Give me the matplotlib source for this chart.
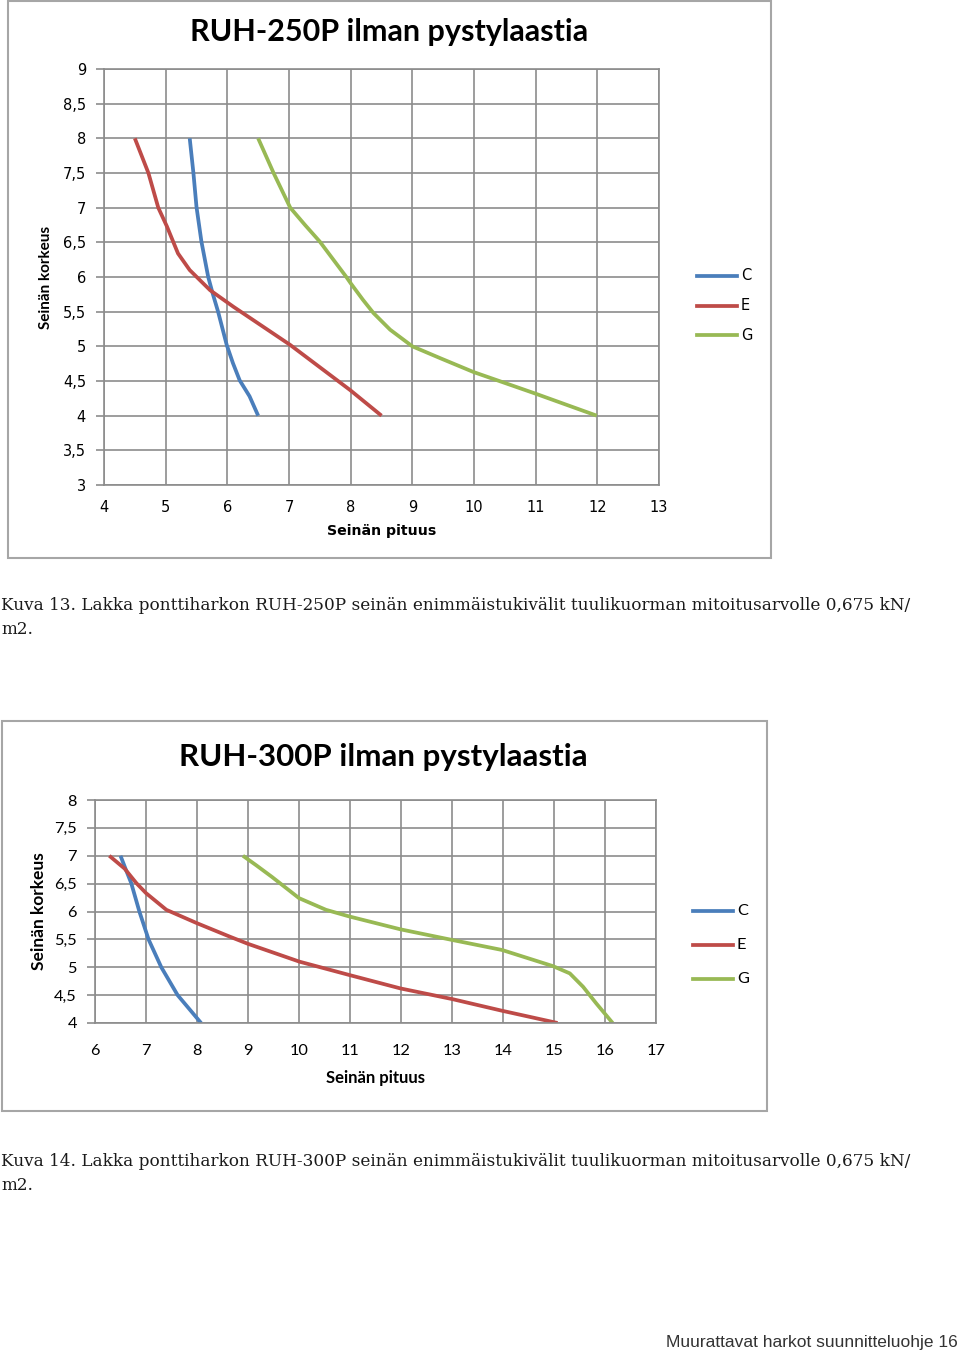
import matplotlib
matplotlib.use("Agg")
import matplotlib.pyplot as plt
from matplotlib.patches import Rectangle

# ---- data ----
series = ["C", "E", "G"]
colors = ["#4A7EBB", "#BE4B48", "#98B954"]

# chart 1: RUH-250P
c1_x = [5.39, 5.45, 5.50, 5.58, 5.69, 5.76, 5.85, 5.99, 6.09, 6.2, 6.36, 6.5]
c1_y = [8.0, 7.5, 7.01, 6.51, 6.0, 5.77, 5.5, 5.02, 4.76, 4.51, 4.28, 4.0]
e1_x = [4.5, 4.72, 4.88, 5.02, 5.20, 5.39, 5.72, 6.10, 7.02, 7.99, 8.5]
e1_y = [8.0, 7.5, 7.0, 6.73, 6.34, 6.10, 5.81, 5.57, 5.02, 4.37, 4.0]
g1_x = [6.5, 6.75, 7.02, 7.26, 7.5, 7.93, 8.0, 8.2, 8.37, 8.64, 9.0, 9.45, 9.99, 10.99, 11.99]
g1_y = [8.0, 7.5, 7.0, 6.75, 6.51, 6.0, 5.91, 5.67, 5.48, 5.24, 5.0, 4.83, 4.63, 4.32, 4.0]

# chart 2: RUH-300P
c2_x = [6.5, 6.61, 6.71, 6.87, 7.05, 7.30, 7.62, 8.08]
c2_y = [7.0, 6.74, 6.51, 6.0, 5.5, 5.0, 4.5, 4.0]
e2_x = [6.28, 6.58, 6.81, 7.0, 7.40, 8.0, 8.64, 9.0, 10.01, 10.99, 11.99, 13.0, 13.98, 15.07]
e2_y = [7.0, 6.77, 6.51, 6.33, 6.03, 5.79, 5.55, 5.42, 5.10, 4.86, 4.62, 4.43, 4.22, 4.0]
g2_x = [8.9, 9.16, 9.47, 10.0, 10.53, 10.99, 11.99, 13.0, 13.98, 14.98, 15.31, 15.57, 15.83, 16.15]
g2_y = [7.0, 6.83, 6.62, 6.24, 6.03, 5.91, 5.68, 5.49, 5.31, 5.02, 4.89, 4.65, 4.35, 4.0]

x1_ticks = list(range(4, 14))
y1_ticks = [3, 3.5, 4, 4.5, 5, 5.5, 6, 6.5, 7, 7.5, 8, 8.5, 9]
x2_ticks = list(range(6, 18))
y2_ticks = [4, 4.5, 5, 5.5, 6, 6.5, 7, 7.5, 8]

title1 = "RUH-250P ilman pystylaastia"
title2 = "RUH-300P ilman pystylaastia"
xlabel = "Seinän pituus"
ylabel = "Seinän korkeus"
caption1 = ["Kuva 13. Lakka ponttiharkon RUH-250P seinän enimmäistukivälit tuulikuorman mitoitusarvolle 0,675 kN/", "m2."]
caption2 = ["Kuva 14. Lakka ponttiharkon RUH-300P seinän enimmäistukivälit tuulikuorman mitoitusarvolle 0,675 kN/", "m2."]
footer = "Muurattavat harkot suunnitteluohje 16"

W, H = 960, 1354
fig = plt.figure(figsize=(W / 100, H / 100), dpi=100)


def fx(px):
    return px / W


def fy(py):
    return 1 - py / H


def fmt(v):
    return ("%g" % v).replace(".", ",")


grid_col = "#8C8C8C"


def chart(box, axbox, data, xt, yt, title, title_y, title_size, font, tick_size,
          xpad, xlab_size, ylab_size, ylab_x, xlab_y, leg_x, leg_y, leg_space):
    bx0, by0, bx1, by1 = box
    fig.patches.append(Rectangle((fx(bx0), fy(by1)), fx(bx1 - bx0), (by1 - by0) / H,
                                 transform=fig.transFigure, fill=False,
                                 edgecolor="#A6A6A6", lw=1.5))
    ax0, ay0, ax1, ay1 = axbox
    ax = fig.add_axes([fx(ax0), fy(ay1), fx(ax1 - ax0), (ay1 - ay0) / H])
    for (xs, ys), col in zip(data, colors):
        ax.plot(xs, ys, color=col, lw=2.7, solid_capstyle="butt",
                solid_joinstyle="round")
    ax.set_xlim(xt[0], xt[-1])
    ax.set_ylim(yt[0], yt[-1])
    ax.set_xticks(xt)
    ax.set_yticks(yt)
    ax.set_xticklabels([fmt(v) for v in xt], fontsize=tick_size, family=font)
    ax.set_yticklabels([fmt(v) for v in yt], fontsize=tick_size, family=font)
    ax.grid(True, color=grid_col, lw=1.2)
    ax.set_axisbelow(True)
    for s in ax.spines.values():
        s.set_color(grid_col)
        s.set_linewidth(1.2)
    ax.tick_params(axis="y", length=6, width=1.2, color=grid_col, pad=7)
    ax.tick_params(axis="x", length=0, pad=xpad)
    fig.text(fx((ax0 + ax1) / 2 + 8), fy(title_y), title, ha="center", va="center",
             fontsize=title_size, fontweight="bold", family="Lato")
    fig.text(fx((ax0 + ax1) / 2), fy(xlab_y), xlabel, ha="center", va="center",
             fontsize=xlab_size, fontweight="bold", family=font)
    fig.text(fx(ylab_x), fy((ay0 + ay1) / 2), ylabel, ha="center", va="center",
             rotation=90, fontsize=ylab_size, fontweight="bold", family="Lato")
    for i, (name, col) in enumerate(zip(series, colors)):
        yy = leg_y + i * leg_space
        fig.add_artist(plt.Line2D([fx(leg_x), fx(leg_x + 40)], [fy(yy), fy(yy)],
                                  color=col, lw=2.7, transform=fig.transFigure))
        fig.text(fx(leg_x + 44), fy(yy), name, ha="left", va="center",
                 fontsize=tick_size, family=font)
    return ax


chart((8, 1, 771, 558), (104, 69, 659, 485),
      [(c1_x, c1_y), (e1_x, e1_y), (g1_x, g1_y)],
      x1_ticks, y1_ticks, title1, 32, 22, "DejaVu Sans", 10.5,
      11, 10.2, 11, 46, 531, 697, 276, 29.5)

chart((2, 721, 767, 1111), (95, 800, 656, 1023),
      [(c2_x, c2_y), (e2_x, e2_y), (g2_x, g2_y)],
      x2_ticks, y2_ticks, title2, 757, 22.5, "Lato", 11.8,
      15, 12, 12.5, 39, 1078, 693, 911, 34)

for cap, y0 in [(caption1, 605), (caption2, 1161)]:
    for i, line in enumerate(cap):
        fig.text(fx(1), fy(y0 + i * 25), line, ha="left", va="center",
                 fontsize=12.2, family="DejaVu Serif", color="#1a1a1a")

fig.text(fx(958), fy(1342), footer, ha="right", va="center", fontsize=12.5,
         family="Liberation Sans", color="#333333")

fig.savefig("out.png", dpi=100)
plt.close()
